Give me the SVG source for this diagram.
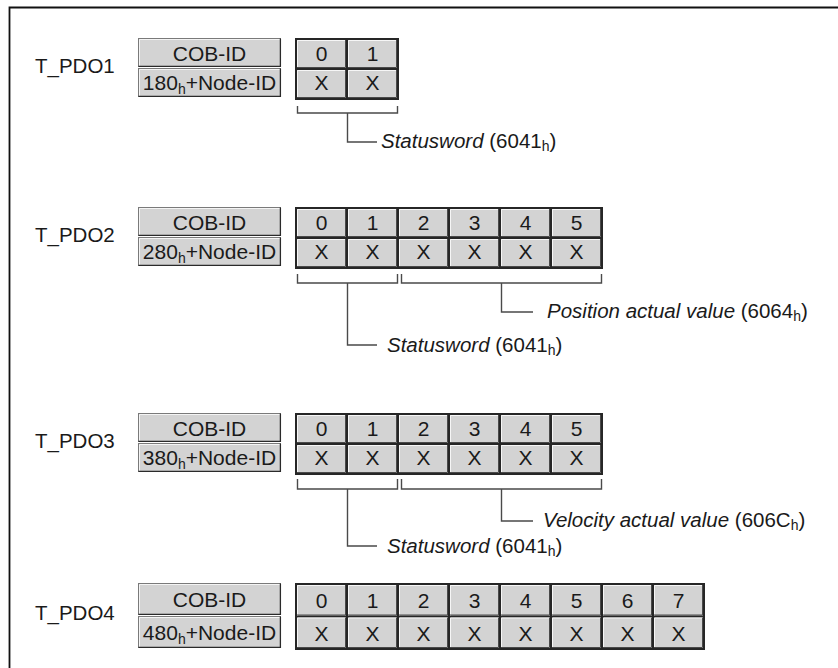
<svg xmlns="http://www.w3.org/2000/svg" xmlns:xlink="http://www.w3.org/1999/xlink" width="838" height="668" viewBox="0 0 838 668">
  <style>
    text { font-family: "Liberation Sans", Arial, Helvetica, sans-serif; fill: #1a1a1a; }
    .lbl { font-size: 20.5px; }
    .cell-t { font-size: 21px; text-anchor: middle; }
    .desc { font-size: 20.5px; }
    .it { font-style: italic; }
    .sub { font-size: 14px; }
    .frame { fill: #262626; }
    .wire { fill: none; stroke: #4a4a4a; stroke-width: 1.4; }
    .border { fill: none; stroke: #111; stroke-width: 1.8; }
  </style>
  <defs>
    <!-- data byte cell, 49 x 28, bevelled -->
    <symbol id="dcell" overflow="visible">
      <rect width="49" height="28" fill="#d3d3d3"/>
      <path d="M0.5,28 V0.5 H49" fill="none" stroke="#f6f6f6" stroke-width="1"/>
      <path d="M0,27.5 H48.5 V0" fill="none" stroke="#4a4a4a" stroke-width="1"/>
    </symbol>
    <!-- taller data byte cell, 49 x 30.5 -->
    <symbol id="dcell-t" overflow="visible">
      <rect width="49" height="30.5" fill="#d3d3d3"/>
      <path d="M0.5,30.5 V0.5 H49" fill="none" stroke="#f6f6f6" stroke-width="1"/>
      <path d="M0,30 H48.5 V0" fill="none" stroke="#4a4a4a" stroke-width="1"/>
    </symbol>
    <!-- COB-ID cell, 143 x 29, bevelled -->
    <symbol id="ccell" overflow="visible">
      <rect x="0.5" y="0.5" width="142" height="28" fill="#d3d3d3" stroke="#7a7a7a" stroke-width="1"/>
      <path d="M1.5,28 V1.5 H142" fill="none" stroke="#f4f4f4" stroke-width="1"/>
      <path d="M0.5,28.4 H142.4 V0.5" fill="none" stroke="#2a2a2a" stroke-width="1.3"/>
    </symbol>
    <!-- taller COB-ID cell, 143 x 32 -->
    <symbol id="ccell-t" overflow="visible">
      <rect x="0.5" y="0.5" width="142" height="31" fill="#d3d3d3" stroke="#7a7a7a" stroke-width="1"/>
      <path d="M1.5,31 V1.5 H142" fill="none" stroke="#f4f4f4" stroke-width="1"/>
      <path d="M0.5,31.4 H142.4 V0.5" fill="none" stroke="#2a2a2a" stroke-width="1.3"/>
    </symbol>
  </defs>

  <rect width="838" height="668" fill="#ffffff"/>
  <!-- page frame (top and left edges) -->
  <path class="border" d="M9.5,668 V7.5 H838"/>

  <!-- T_PDO1 -->
  <g id="t_pdo1">
    <text class="lbl" x="35" y="73">T_PDO1</text>
    <use xlink:href="#ccell" x="138" y="38"/>
    <use xlink:href="#ccell" x="138" y="68"/>
    <text class="cell-t" x="209.5" y="60.5">COB-ID</text>
    <text class="cell-t" x="209.5" y="90">180<tspan class="sub" dy="4">h</tspan><tspan dy="-4">+Node-ID</tspan></text>
    <rect class="frame" x="295" y="38" width="104" height="62"/>
    <use xlink:href="#dcell" x="297" y="40"/><use xlink:href="#dcell" x="348" y="40"/>
    <use xlink:href="#dcell" x="297" y="70"/><use xlink:href="#dcell" x="348" y="70"/>
    <text class="cell-t" x="321.5" y="61">0</text><text class="cell-t" x="372.5" y="61">1</text>
    <text class="cell-t" x="321.5" y="90">X</text><text class="cell-t" x="372.5" y="90">X</text>
  </g>

  <!-- T_PDO2 -->
  <g id="t_pdo2">
    <text class="lbl" x="35" y="242">T_PDO2</text>
    <use xlink:href="#ccell" x="138" y="207"/>
    <use xlink:href="#ccell" x="138" y="237"/>
    <text class="cell-t" x="209.5" y="229.5">COB-ID</text>
    <text class="cell-t" x="209.5" y="259">280<tspan class="sub" dy="4">h</tspan><tspan dy="-4">+Node-ID</tspan></text>
    <rect class="frame" x="295" y="207" width="308" height="62"/>
    <use xlink:href="#dcell" x="297" y="209"/><use xlink:href="#dcell" x="348" y="209"/><use xlink:href="#dcell" x="399" y="209"/>
    <use xlink:href="#dcell" x="450" y="209"/><use xlink:href="#dcell" x="501" y="209"/><use xlink:href="#dcell" x="552" y="209"/>
    <use xlink:href="#dcell" x="297" y="239"/><use xlink:href="#dcell" x="348" y="239"/><use xlink:href="#dcell" x="399" y="239"/>
    <use xlink:href="#dcell" x="450" y="239"/><use xlink:href="#dcell" x="501" y="239"/><use xlink:href="#dcell" x="552" y="239"/>
    <text class="cell-t" x="321.5" y="230">0</text><text class="cell-t" x="372.5" y="230">1</text><text class="cell-t" x="423.5" y="230">2</text>
    <text class="cell-t" x="474.5" y="230">3</text><text class="cell-t" x="525.5" y="230">4</text><text class="cell-t" x="576.5" y="230">5</text>
    <text class="cell-t" x="321.5" y="259">X</text><text class="cell-t" x="372.5" y="259">X</text><text class="cell-t" x="423.5" y="259">X</text>
    <text class="cell-t" x="474.5" y="259">X</text><text class="cell-t" x="525.5" y="259">X</text><text class="cell-t" x="576.5" y="259">X</text>
  </g>

  <!-- T_PDO3 -->
  <g id="t_pdo3">
    <text class="lbl" x="35" y="448">T_PDO3</text>
    <use xlink:href="#ccell" x="138" y="413"/>
    <use xlink:href="#ccell" x="138" y="443"/>
    <text class="cell-t" x="209.5" y="435.5">COB-ID</text>
    <text class="cell-t" x="209.5" y="465">380<tspan class="sub" dy="4">h</tspan><tspan dy="-4">+Node-ID</tspan></text>
    <rect class="frame" x="295" y="413" width="308" height="62"/>
    <use xlink:href="#dcell" x="297" y="415"/><use xlink:href="#dcell" x="348" y="415"/><use xlink:href="#dcell" x="399" y="415"/>
    <use xlink:href="#dcell" x="450" y="415"/><use xlink:href="#dcell" x="501" y="415"/><use xlink:href="#dcell" x="552" y="415"/>
    <use xlink:href="#dcell" x="297" y="445"/><use xlink:href="#dcell" x="348" y="445"/><use xlink:href="#dcell" x="399" y="445"/>
    <use xlink:href="#dcell" x="450" y="445"/><use xlink:href="#dcell" x="501" y="445"/><use xlink:href="#dcell" x="552" y="445"/>
    <text class="cell-t" x="321.5" y="436">0</text><text class="cell-t" x="372.5" y="436">1</text><text class="cell-t" x="423.5" y="436">2</text>
    <text class="cell-t" x="474.5" y="436">3</text><text class="cell-t" x="525.5" y="436">4</text><text class="cell-t" x="576.5" y="436">5</text>
    <text class="cell-t" x="321.5" y="465">X</text><text class="cell-t" x="372.5" y="465">X</text><text class="cell-t" x="423.5" y="465">X</text>
    <text class="cell-t" x="474.5" y="465">X</text><text class="cell-t" x="525.5" y="465">X</text><text class="cell-t" x="576.5" y="465">X</text>
  </g>

  <!-- T_PDO4 (rows drawn slightly taller) -->
  <g id="t_pdo4">
    <text class="lbl" x="35" y="620">T_PDO4</text>
    <use xlink:href="#ccell-t" x="138" y="583"/>
    <use xlink:href="#ccell-t" x="138" y="616"/>
    <text class="cell-t" x="209.5" y="607">COB-ID</text>
    <text class="cell-t" x="209.5" y="640">480<tspan class="sub" dy="4">h</tspan><tspan dy="-4">+Node-ID</tspan></text>
    <rect class="frame" x="295" y="583" width="410" height="67"/>
    <use xlink:href="#dcell-t" x="297" y="585"/><use xlink:href="#dcell-t" x="348" y="585"/><use xlink:href="#dcell-t" x="399" y="585"/><use xlink:href="#dcell-t" x="450" y="585"/>
    <use xlink:href="#dcell-t" x="501" y="585"/><use xlink:href="#dcell-t" x="552" y="585"/><use xlink:href="#dcell-t" x="603" y="585"/><use xlink:href="#dcell-t" x="654" y="585"/>
    <use xlink:href="#dcell-t" x="297" y="617.5"/><use xlink:href="#dcell-t" x="348" y="617.5"/><use xlink:href="#dcell-t" x="399" y="617.5"/><use xlink:href="#dcell-t" x="450" y="617.5"/>
    <use xlink:href="#dcell-t" x="501" y="617.5"/><use xlink:href="#dcell-t" x="552" y="617.5"/><use xlink:href="#dcell-t" x="603" y="617.5"/><use xlink:href="#dcell-t" x="654" y="617.5"/>
    <text class="cell-t" x="321.5" y="608">0</text><text class="cell-t" x="372.5" y="608">1</text><text class="cell-t" x="423.5" y="608">2</text><text class="cell-t" x="474.5" y="608">3</text>
    <text class="cell-t" x="525.5" y="608">4</text><text class="cell-t" x="576.5" y="608">5</text><text class="cell-t" x="627.5" y="608">6</text><text class="cell-t" x="678.5" y="608">7</text>
    <text class="cell-t" x="321.5" y="640.5">X</text><text class="cell-t" x="372.5" y="640.5">X</text><text class="cell-t" x="423.5" y="640.5">X</text><text class="cell-t" x="474.5" y="640.5">X</text>
    <text class="cell-t" x="525.5" y="640.5">X</text><text class="cell-t" x="576.5" y="640.5">X</text><text class="cell-t" x="627.5" y="640.5">X</text><text class="cell-t" x="678.5" y="640.5">X</text>
  </g>

  <!-- byte-range brackets and their object labels -->
  <g id="connectors">
    <path class="wire" d="M297.5,106 V113 H397.5 V106"/>
    <path class="wire" d="M347.5,113 V142 H377"/>
    <text class="desc" x="381" y="148"><tspan class="it">Statusword</tspan> (6041<tspan class="sub" dy="3">h</tspan><tspan dy="-3">)</tspan></text>

    <path class="wire" d="M297.5,274 V283 H397.5 V274"/>
    <path class="wire" d="M401.5,274 V283 H601.5 V274"/>
    <path class="wire" d="M347.5,283 V345 H377"/>
    <path class="wire" d="M501.5,283 V312 H533"/>
    <text class="desc" x="547" y="318"><tspan class="it">Position actual value</tspan> (6064<tspan class="sub" dy="3">h</tspan><tspan dy="-3">)</tspan></text>
    <text class="desc" x="387" y="352"><tspan class="it">Statusword</tspan> (6041<tspan class="sub" dy="3">h</tspan><tspan dy="-3">)</tspan></text>

    <path class="wire" d="M297.5,479 V489 H397.5 V479"/>
    <path class="wire" d="M401.5,479 V489 H601.5 V479"/>
    <path class="wire" d="M347.5,489 V546 H377"/>
    <path class="wire" d="M501.5,489 V521 H533"/>
    <text class="desc" x="543" y="527"><tspan class="it">Velocity actual value</tspan> (606C<tspan class="sub" dy="3">h</tspan><tspan dy="-3">)</tspan></text>
    <text class="desc" x="387" y="553"><tspan class="it">Statusword</tspan> (6041<tspan class="sub" dy="3">h</tspan><tspan dy="-3">)</tspan></text>
  </g>
</svg>
